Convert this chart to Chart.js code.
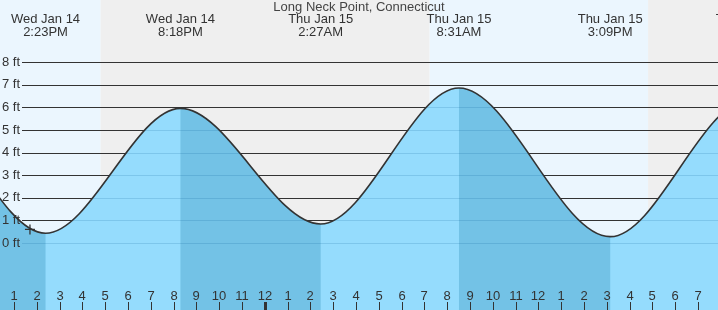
<!DOCTYPE html>
<html><head><meta charset="utf-8">
<script src="https://cdn.jsdelivr.net/npm/chart.js@4.4.1/dist/chart.umd.min.js"></script>
<style>html,body{margin:0;padding:0;background:#fff}canvas{display:block}</style>
</head><body>
<canvas id="c" width="718" height="310"></canvas>
<script>
// Hours counted from Wed Jan 14 00:00 (first two and last one lie outside the view)
const hiloTimes   = [2.10, 8.30, 14.383, 20.30, 26.45, 32.517, 39.15, 45.20, 51.50];
const hiloHeights = [0.50, 6.50, 0.43, 5.96, 0.84, 6.86, 0.28, 6.30, 0.70];
const hiloDay     = ["Wed Jan 14","Wed Jan 14","Wed Jan 14","Wed Jan 14","Thu Jan 15","Thu Jan 15","Thu Jan 15","Thu Jan 15","Fri Jan 16"];
const hiloClock   = ["2:06AM","8:18AM","2:23PM","8:18PM","2:27AM","8:31AM","3:09PM","9:12PM","3:30AM"];
const sunEvents   = [16.80, 31.23, 40.81];        // sunset, sunrise, sunset
const hourTicks   = [13,14,15,16,17,18,19,20,21,22,23,24,25,26,27,28,29,30,31,32,33,34,35,36,37,38,39,40,41,42,43];
const hourLabels  = ["1","2","3","4","5","6","7","8","9","10","11","12","1","2","3","4","5","6","7","8","9","10","11","12","1","2","3","4","5","6","7"];
const ftTicks     = [0,1,2,3,4,5,6,7,8];
const ftLabels    = ["0 ft","1 ft","2 ft","3 ft","4 ft","5 ft","6 ft","7 ft","8 ft"];
const nowTime = 13.70, nowHeight = 0.60;
const viewStart = 12.386, viewEnd = 43.877;
const yMin = -2.966, yMax = 10.757;
const title = "Long Neck Point, Connecticut";

const FONT = '13px "Liberation Sans", Arial, sans-serif';
const TXT = '#333';

function waterPath(chart, ctx) {
  const line = chart.getDatasetMeta(0).dataset;
  line.updateControlPoints(chart.chartArea, 'x');
  const pts = line.points;
  const bottom = chart.height + 5;
  line.path(ctx);
  ctx.lineTo(pts[pts.length-1].x, bottom);
  ctx.lineTo(pts[0].x, bottom);
  ctx.closePath();
}

const tidePlugin = {
  id: 'tide',
  beforeDatasetsDraw(chart) {
    const ctx = chart.ctx, xs = chart.scales.x, ys = chart.scales.y, W = chart.width, H = chart.height;
    // day / night bands
    const edges = [0, ...sunEvents.map(t => xs.getPixelForValue(t)), W];
    for (let i = 0; i < edges.length - 1; i++) {
      ctx.fillStyle = (i % 2 === 0) ? '#ebf6fe' : '#efefef';
      ctx.fillRect(edges[i], 0, edges[i+1] - edges[i], H);
    }
    // water area
    ctx.save();
    ctx.beginPath();
    waterPath(chart, ctx);
    ctx.clip();
    ctx.fillStyle = '#95dcfd';
    ctx.fillRect(0, 0, W, H);
    ctx.fillStyle = '#73c2e6';
    for (let i = 0; i < hiloTimes.length - 1; i++) {
      if (hiloHeights[i] > hiloHeights[i+1]) {
        const x0 = xs.getPixelForValue(hiloTimes[i]), x1 = xs.getPixelForValue(hiloTimes[i+1]);
        ctx.fillRect(x0, 0, x1 - x0, H);
      }
    }
    ctx.restore();
    const gx0 = 22;
    // grid lines outside water
    ctx.save();
    ctx.beginPath();
    ctx.rect(0, 0, W, H);
    waterPath(chart, ctx);
    ctx.clip('evenodd');
    ctx.strokeStyle = '#333';
    ctx.lineWidth = 1;
    ftTicks.forEach(v => {
      const y = Math.round(ys.getPixelForValue(v)) + 0.5;
      ctx.beginPath(); ctx.moveTo(gx0, y); ctx.lineTo(W, y); ctx.stroke();
    });
    ctx.restore();
    // grid lines inside water
    ctx.save();
    ctx.beginPath();
    waterPath(chart, ctx);
    ctx.clip();
    ctx.strokeStyle = 'rgba(0,90,140,0.16)';
    ctx.lineWidth = 1;
    ftTicks.forEach(v => {
      const y = Math.round(ys.getPixelForValue(v)) + 0.5;
      ctx.beginPath(); ctx.moveTo(gx0, y); ctx.lineTo(W, y); ctx.stroke();
    });
    ctx.restore();
    // y labels
    ctx.save();
    ctx.font = FONT; ctx.fillStyle = TXT; ctx.textAlign = 'left'; ctx.textBaseline = 'middle';
    ftTicks.forEach((v, i) => ctx.fillText(ftLabels[i], 2, ys.getPixelForValue(v)));
    ctx.restore();
  },
  afterDatasetsDraw(chart) {
    const ctx = chart.ctx, xs = chart.scales.x, W = chart.width;
    ctx.save();
    ctx.fillStyle = TXT;
    ctx.font = FONT; ctx.textAlign = 'center'; ctx.textBaseline = 'middle';
    // hour ticks
    hourTicks.forEach((t, i) => {
      const x = Math.round(xs.getPixelForValue(t));
      const w = (t % 24 === 0) ? 3 : 1;
      ctx.fillRect(x - Math.floor(w/2), 302, w, 8);
      ctx.fillText(hourLabels[i], x, 296);
    });
    // high / low labels
    hiloTimes.forEach((t, i) => {
      const x = xs.getPixelForValue(t);
      ctx.fillText(hiloDay[i], x, 19.5);
      ctx.fillText(hiloClock[i], x, 32.5);
    });
    ctx.fillStyle = '#444';
    ctx.fillText(title, W / 2, 7);
    ctx.restore();
  }
};

new Chart(document.getElementById('c'), {
  type: 'line',
  data: {
    datasets: [{
      data: hiloTimes.map((t, i) => ({x: t, y: hiloHeights[i]})),
      borderColor: '#333',
      borderWidth: 1.6,
      cubicInterpolationMode: 'monotone',
      pointRadius: 0,
      fill: false
    }, {
      data: [{x: nowTime, y: nowHeight}],
      showLine: false,
      pointStyle: 'cross',
      pointRadius: 5,
      borderColor: '#333',
      borderWidth: 1.3
    }]
  },
  options: {
    responsive: false,
    animation: false,
    layout: {padding: 0, autoPadding: false},
    plugins: {legend: {display: false}, tooltip: {enabled: false}, title: {display: false}},
    scales: {
      x: {type: 'linear', min: viewStart, max: viewEnd, display: false},
      y: {min: yMin, max: yMax, display: false}
    }
  },
  plugins: [tidePlugin]
});
</script>
</body></html>
